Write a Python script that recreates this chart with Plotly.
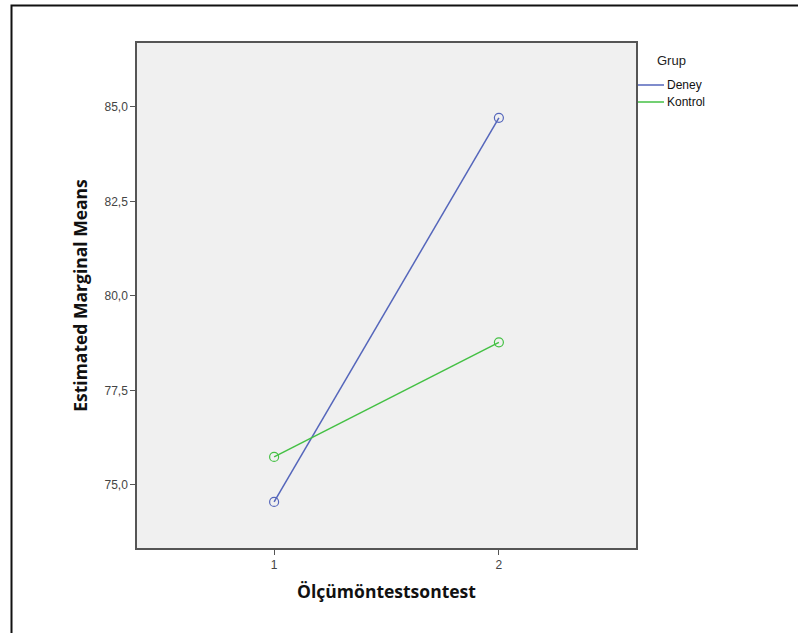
import plotly.graph_objects as go

x_levels = [1, 2]
deney = [74.55, 84.71]
kontrol = [75.74, 78.77]
series_names = ["Deney", "Kontrol"]
y_ticks = [75.0, 77.5, 80.0, 82.5, 85.0]
x_ticks = [1, 2]

W, H = 798, 633
L, R, T, B = 137, 162, 43, 85
pw, ph = W - L - R, H - T - B

def px(xp):
    return (xp - L) / pw

def py(yp):
    return (H - B - yp) / ph

fig = go.Figure()
colors = ["#5566bb", "#44c044"]
for name, vals, c in zip(series_names, [deney, kontrol], colors):
    fig.add_trace(go.Scatter(
        x=x_levels, y=vals, name=name, mode="lines+markers",
        line=dict(color=c, width=1.5),
        marker=dict(symbol="circle-open", size=9, color=c, line=dict(width=1.2, color=c)),
        showlegend=False,
    ))

fig.update_layout(
    width=W, height=H,
    margin=dict(l=L, r=R, t=T, b=B),
    paper_bgcolor="white",
    plot_bgcolor="#f0f0f0",
    separators=",.",
    font=dict(family="Liberation Sans, Arial, sans-serif", color="#333"),
    showlegend=False,
)
title_font = dict(family="Open Sans, sans-serif", size=17.5, color="#111")
fig.update_xaxes(
    range=[0.39, 2.61], tickvals=x_ticks, ticktext=[str(v) for v in x_ticks],
    showgrid=False, zeroline=False, showline=True, linecolor="#555", linewidth=1.5,
    mirror=True, ticks="outside", ticklen=5, tickcolor="#555",
    tickfont=dict(size=12, color="#444"),
    title=dict(text="<b>Ölçümöntestsontest</b>", font=title_font, standoff=15),
)
fig.update_yaxes(
    range=[73.33, 86.69], tickvals=y_ticks, tickformat=".1f",
    showgrid=False, zeroline=False, showline=True, linecolor="#555", linewidth=1.5,
    mirror=True, ticks="outside", ticklen=5, tickcolor="#555",
    tickfont=dict(size=12, color="#444"),
    title=dict(text="<b>Estimated Marginal Means</b>", font=title_font, standoff=12),
)

# legend (manual)
shapes = []
annotations = [dict(xref="paper", yref="paper", x=px(655), y=py(60), text="Grup",
                    showarrow=False, xanchor="left", yanchor="middle",
                    font=dict(size=13, color="#222"))]
for i, (name, c) in enumerate(zip(series_names, colors)):
    yy = py(85 + i * 17)
    shapes.append(dict(type="line", xref="paper", yref="paper", x0=px(638), x1=px(664),
                       y0=yy, y1=yy, line=dict(color=c, width=1.5)))
    annotations.append(dict(xref="paper", yref="paper", x=px(665), y=yy, text=name,
                            showarrow=False, xanchor="left", yanchor="middle",
                            font=dict(size=12, color="#111")))

# outer frame
shapes.append(dict(type="rect", xref="paper", yref="paper",
                   x0=px(11.5), x1=px(805), y0=py(5.5), y1=py(645),
                   line=dict(color="#111", width=2), fillcolor="rgba(0,0,0,0)", layer="below"))
fig.update_layout(shapes=shapes, annotations=annotations)

fig.write_html("out.html", config={"displayModeBar": False},
               post_script="document.body.style.margin='0';")
